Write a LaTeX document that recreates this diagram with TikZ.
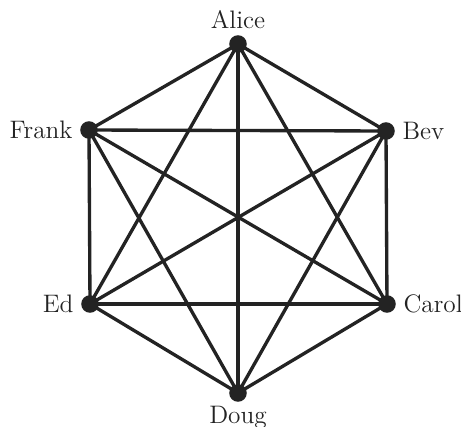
\documentclass[tikz,border=0pt]{standalone}
\usepackage{tikz}
\usetikzlibrary{positioning,backgrounds}
\definecolor{edgegray}{RGB}{35,35,35}
\tikzset{
  person/.style={circle, fill=edgegray, inner sep=0pt, minimum size=10pt},
  link/.style={draw=edgegray, line width=1.9pt},
  who/.style={font=\Large, text=edgegray, inner sep=1pt},
}
\begin{document}
\begin{tikzpicture}[x=0.02cm, y=-0.02cm]
  \useasboundingbox (0,0) rectangle (461,427);

  \node[person] (alice) at (238,44)  {};
  \node[person] (bev)   at (386,131) {};
  \node[person] (carol) at (387,304) {};
  \node[person] (doug)  at (238,393) {};
  \node[person] (ed)    at (90,304)  {};
  \node[person] (frank) at (89,130)  {};

  \node[who, above=2pt of alice] (alicelbl) {Alice};
  \node[who, right=3pt of bev]   (bevlbl)   {Bev};
  \node[who, right=3pt of carol] (carollbl) {Carol};
  \node[who, below=1pt of doug]  (douglbl)  {Doug};
  \node[who, left=3pt of ed]     (edlbl)    {Ed};
  \node[who, left=3pt of frank]  (franklbl) {Frank};

  % every pair of people is joined
  \begin{pgfonlayer}{background}
  \foreach \a/\b in {alice/bev, alice/carol, alice/doug, alice/ed, alice/frank,
                     bev/carol, bev/doug, bev/ed, bev/frank,
                     carol/doug, carol/ed, carol/frank,
                     doug/ed, doug/frank, ed/frank}
    \draw[link] (\a.center) -- (\b.center);
  \end{pgfonlayer}
\end{tikzpicture}
\end{document}
